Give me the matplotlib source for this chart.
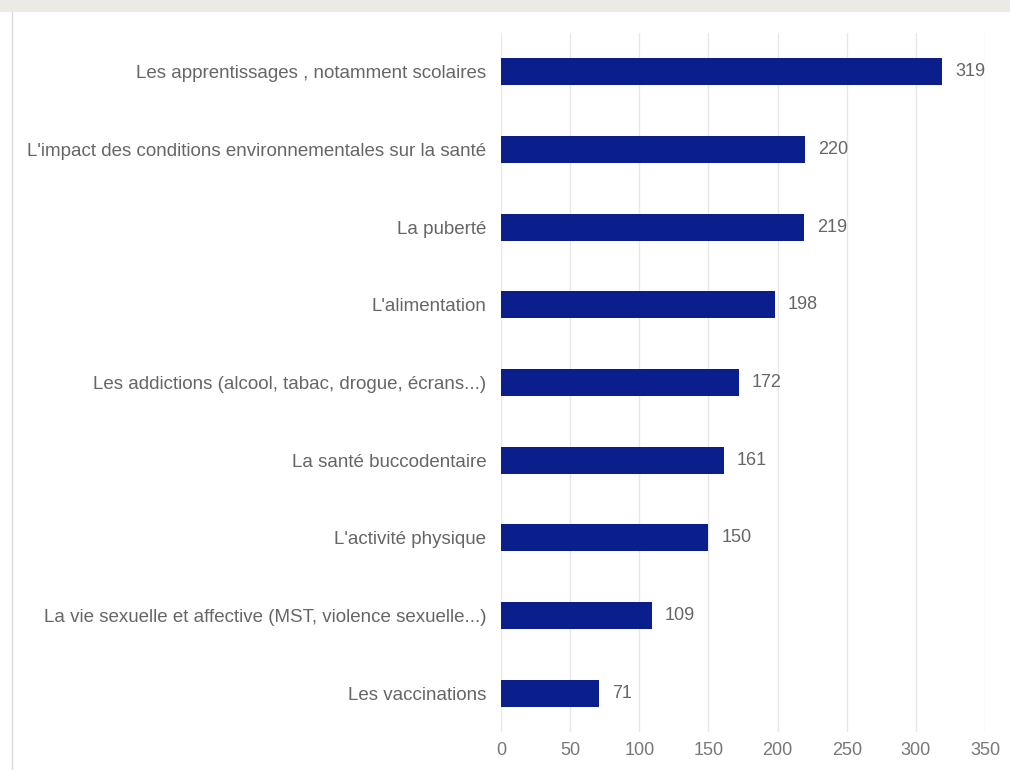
import matplotlib
matplotlib.use("Agg")
import matplotlib.pyplot as plt
from matplotlib.patches import Rectangle
from matplotlib.lines import Line2D

categories = [
    "Les apprentissages , notamment scolaires",
    "L'impact des conditions environnementales sur la santé",
    "La puberté",
    "L'alimentation",
    "Les addictions (alcool, tabac, drogue, écrans...)",
    "La santé buccodentaire",
    "L'activité physique",
    "La vie sexuelle et affective (MST, violence sexuelle...)",
    "Les vaccinations",
]
values = [319, 220, 219, 198, 172, 161, 150, 109, 71]
x_ticks = [0, 50, 100, 150, 200, 250, 300, 350]

plt.rcParams["font.family"] = ["Liberation Sans", "DejaVu Sans"]

fig = plt.figure(figsize=(10.1, 7.7), dpi=100)
fig.patch.set_facecolor("white")

# grey header strip and left frame line
fig.add_artist(Rectangle((0, 1 - 12 / 770), 1, 12 / 770, transform=fig.transFigure,
                         facecolor="#ebeae5", edgecolor="none"))
fig.add_artist(Line2D([12 / 1010, 12 / 1010], [0, 1 - 12 / 770], transform=fig.transFigure,
                      color="#dcdcdc", lw=1))

ax = fig.add_axes([501 / 1010, 38 / 770, 484 / 1010, 1 - 33 / 770 - 38 / 770])
ypos = list(range(len(categories)))
ax.barh(ypos, values, height=0.35, color="#0b1f8c", zorder=3)
for y, v in zip(ypos, values):
    ax.text(v + 9.5, y, str(v), va="center", ha="left", fontsize=13, color="#666666")

ax.set_xlim(0, 350)
ax.set_ylim(len(categories) - 0.5, -0.5)
ax.set_xticks(x_ticks)
ax.set_xticklabels([str(t) for t in x_ticks], fontsize=13, color="#777777")
ax.set_yticks(ypos)
ax.set_yticklabels(categories, fontsize=13.5, color="#666666")
ax.tick_params(axis="both", length=0)
ax.tick_params(axis="y", pad=10.5)
ax.tick_params(axis="x", pad=7)
ax.grid(axis="x", color="#e8e8e8", lw=1, zorder=0)
for s in ax.spines.values():
    s.set_visible(False)

fig.savefig("out.png", dpi=100, facecolor="white")
